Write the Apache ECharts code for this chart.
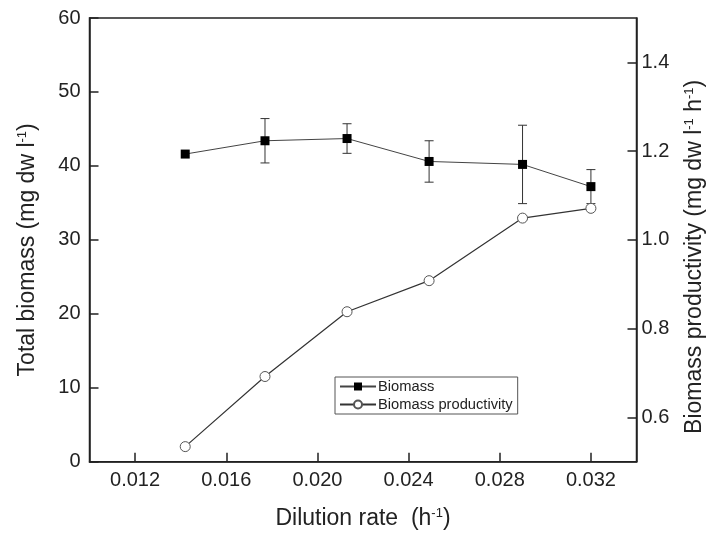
<!DOCTYPE html>
<html>
<head>
<meta charset="utf-8">
<script src="https://cdn.jsdelivr.net/npm/echarts@6/dist/echarts.min.js"></script>
<style>html,body{margin:0;padding:0;background:#fff;}#c{width:713px;height:540px;}</style>
</head>
<body>
<div id="c"></div>
<script>
// Data
var dilutionRate = [0.0142, 0.0177, 0.0213, 0.0249, 0.0290, 0.0320];
var biomass = [41.6, 43.4, 43.7, 40.6, 40.2, 37.2];
var biomassErr = [0, 3.0, 2.0, 2.8, 5.3, 2.3];
var productivity = [0.534, 0.692, 0.838, 0.908, 1.049, 1.071];
var xTicks = [0.012, 0.016, 0.020, 0.024, 0.028, 0.032];
var yLeftTicks = [0, 10, 20, 30, 40, 50, 60];
var yRightTicks = [0.6, 0.8, 1.0, 1.2, 1.4];

var FONT = 'Liberation Sans, Arial, sans-serif';
var chart = echarts.init(document.getElementById('c'), null, {renderer: 'canvas'});

var biomassData = dilutionRate.map(function (x, i) { return [x, biomass[i]]; });
var prodData = dilutionRate.map(function (x, i) { return [x, productivity[i]]; });
var errData = dilutionRate.map(function (x, i) { return [x, biomass[i], biomassErr[i]]; });

var supRich = {
  sup: {fontSize: 13, fontFamily: FONT, color: '#222', verticalAlign: 'top', lineHeight: 24, padding: [0, 0, 10, 0]}
};

var option = {
  backgroundColor: '#fff',
  animation: false,
  grid: {left: 89.5, right: 76.5, top: 18, bottom: 78.3, show: true, borderColor: '#222', borderWidth: 1.5,
    backgroundColor: 'transparent', containLabel: false, outerBoundsMode: 'none'},
  legend: {
    data: ['Biomass', 'Biomass productivity'],
    orient: 'vertical',
    left: 335, top: 377,
    padding: [2, 5, 2, 4],
    itemWidth: 36, itemHeight: 10, itemGap: 3,
    borderColor: '#555', borderWidth: 1, borderRadius: 0,
    backgroundColor: '#fff',
    textStyle: {fontFamily: FONT, fontSize: 14.7, color: '#222', padding: [0, 0, 0, -3]}
  },
  xAxis: {
    type: 'value', min: 0.010, max: 0.034,
    name: 'Dilution rate  (h{sup|-1})',
    nameLocation: 'middle', nameGap: 45,
    nameTextStyle: {fontFamily: FONT, fontSize: 23, color: '#222', rich: supRich},
    axisLine: {show: true, lineStyle: {color: '#222', width: 1.5}},
    axisTick: {show: true, inside: true, length: 9, lineStyle: {color: '#222', width: 1.5}, customValues: xTicks},
    axisLabel: {fontFamily: FONT, fontSize: 20, color: '#222', margin: 9, customValues: xTicks,
      formatter: function (v) { return v.toFixed(3); }},
    splitLine: {show: false}
  },
  yAxis: [{
    type: 'value', min: 0, max: 60, position: 'left',
    name: 'Total biomass (mg dw l{sup|-1})',
    nameLocation: 'middle', nameGap: 50,
    nameTextStyle: {fontFamily: FONT, fontSize: 23, color: '#222', rich: supRich, padding: [0, 20, 0, 0]},
    axisLine: {show: true, lineStyle: {color: '#222', width: 1.5}},
    axisTick: {show: true, inside: true, length: 9, lineStyle: {color: '#222', width: 1.5}, customValues: yLeftTicks},
    axisLabel: {fontFamily: FONT, fontSize: 20, color: '#222', margin: 9, customValues: yLeftTicks},
    splitLine: {show: false}
  }, {
    type: 'value', min: 0.5, max: 1.5, position: 'right',
    name: 'Biomass productivity (mg dw l{sup|-1} h{sup|-1})',
    nameLocation: 'middle', nameGap: 46,
    nameTextStyle: {fontFamily: FONT, fontSize: 23, color: '#222', rich: supRich, padding: [0, 34, 0, 0]},
    axisLine: {show: true, lineStyle: {color: '#222', width: 1.5}},
    axisTick: {show: true, inside: true, length: 9, lineStyle: {color: '#222', width: 1.5}, customValues: yRightTicks},
    axisLabel: {fontFamily: FONT, fontSize: 20, color: '#222', margin: 5, customValues: yRightTicks,
      formatter: function (v) { return v.toFixed(1); }},
    splitLine: {show: false}
  }],
  series: [{
    name: 'errorbars', type: 'custom', yAxisIndex: 0, z: 1,
    data: errData,
    renderItem: function (params, api) {
      var x = api.value(0), y = api.value(1), e = api.value(2);
      if (!e) return null;
      var top = api.coord([x, y + e]);
      var bot = api.coord([x, y - e]);
      var hw = 4.5;
      var st = {stroke: '#333', lineWidth: 1};
      return {type: 'group', children: [
        {type: 'line', shape: {x1: top[0], y1: top[1], x2: bot[0], y2: bot[1]}, style: st},
        {type: 'line', shape: {x1: top[0] - hw, y1: top[1], x2: top[0] + hw, y2: top[1]}, style: st},
        {type: 'line', shape: {x1: bot[0] - hw, y1: bot[1], x2: bot[0] + hw, y2: bot[1]}, style: st}
      ]};
    },
    silent: true
  }, {
    name: 'Biomass', type: 'line', yAxisIndex: 0, z: 3,
    data: biomassData,
    symbol: 'rect', symbolSize: 9,
    lineStyle: {color: '#444', width: 1},
    itemStyle: {color: '#000', borderColor: '#000', borderWidth: 0}
  }, {
    name: 'Biomass productivity', type: 'line', yAxisIndex: 1, z: 4,
    data: prodData,
    symbol: 'circle', symbolSize: 10,
    lineStyle: {color: '#333', width: 1.2},
    itemStyle: {color: '#fff', borderColor: '#555', borderWidth: 1}
  }]
};
chart.setOption(option);
</script>
</body>
</html>
